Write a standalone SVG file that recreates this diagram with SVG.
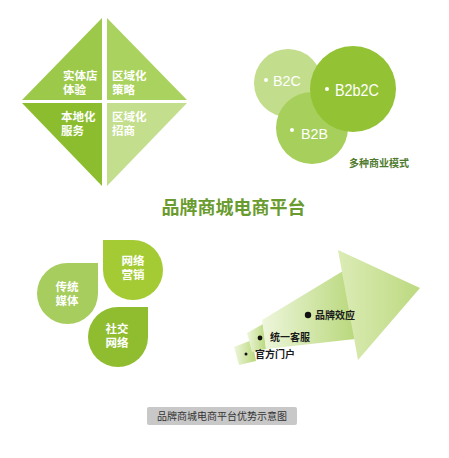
<svg xmlns="http://www.w3.org/2000/svg" width="449" height="458" viewBox="0 0 449 458">
<defs>
<style>
.cjk{font-family:"Liberation Sans","Noto Sans CJK SC",sans-serif;font-weight:bold;dominant-baseline:central}
.w12{fill:#ffffff;font-size:11.5px}
.lat{font-family:"Liberation Sans",Arial,sans-serif;fill:#ffffff;dominant-baseline:central}
.blk{fill:#1a1a1a;font-size:10px}
</style>
<linearGradient id="gBody" x1="0" y1="0" x2="1" y2="0">
<stop offset="0" stop-color="#eef6dc"/>
<stop offset="1" stop-color="#b9d87c"/>
</linearGradient>
<linearGradient id="gHead" x1="0" y1="0" x2="1" y2="0">
<stop offset="0" stop-color="#dcecb6"/>
<stop offset="1" stop-color="#bcd980"/>
</linearGradient>
</defs>
<rect width="449" height="458" fill="#ffffff"/>

<g id="diamond">
<polygon points="22,100 102,100 102,18" fill="#9dc94b"/>
<polygon points="107,18 107,100 187,100" fill="#aad25e"/>
<polygon points="22,103 102,103 102,186" fill="#8cbd2f"/>
<polygon points="107,103 187,103 107,186" fill="#c3de8c"/>
<text class="cjk w12" x="63" y="75.5">实体店</text>
<text class="cjk w12" x="63" y="89.5">体验</text>
<text class="cjk w12" x="112" y="75.5">区域化</text>
<text class="cjk w12" x="112" y="89.5">策略</text>
<text class="cjk w12" x="61" y="116.5">本地化</text>
<text class="cjk w12" x="61" y="130.5">服务</text>
<text class="cjk w12" x="112" y="116.5">区域化</text>
<text class="cjk w12" x="112" y="130.5">招商</text>
</g>

<g id="models">
<g id="b2c">
<circle cx="288" cy="83" r="34" fill="#c2dd8b"/>
</g>
<g id="b2b">
<circle cx="312" cy="128" r="36" fill="#a6cf5b"/>
</g>
<g id="b2b2c">
<circle cx="353" cy="89" r="43" fill="#93c335"/>
</g>
<circle cx="266" cy="80" r="2" fill="#ffffff"/>
<text class="lat" x="273" y="80" font-size="15" textLength="28" lengthAdjust="spacingAndGlyphs">B2C</text>
<circle cx="327" cy="89" r="2" fill="#ffffff"/>
<text class="lat" x="335" y="90" font-size="16" textLength="44" lengthAdjust="spacingAndGlyphs">B2b2C</text>
<circle cx="292" cy="130" r="2" fill="#ffffff"/>
<text class="lat" x="301" y="133" font-size="15" textLength="27" lengthAdjust="spacingAndGlyphs">B2B</text>
<text class="cjk" x="349" y="163" font-size="10" fill="#4f7b2e">多种商业模式</text>
</g>

<g id="title">
<text class="cjk" x="233.5" y="208" font-size="18" fill="#6a9b2f" text-anchor="middle">品牌商城电商平台</text>
</g>

<g id="drops">
<g id="d1">
<path d="M37,293.5 A30.5,30.5 0 0 1 67.5,263 L98,263 L98,293.5 A30.5,30.5 0 0 1 67.5,324 A30.5,30.5 0 0 1 37,293.5 Z" fill="#a6cd5e"/>
<text class="cjk w12" x="67" y="286.5" text-anchor="middle">传统</text>
<text class="cjk w12" x="67" y="300.5" text-anchor="middle">媒体</text>
</g>
<g id="d2">
<path d="M103,240 L133,240 A30,30 0 0 1 163,270 A30,30 0 0 1 133,300 A30,30 0 0 1 103,270 Z" fill="#a4cb34"/>
<text class="cjk w12" x="133" y="261" text-anchor="middle">网络</text>
<text class="cjk w12" x="133" y="275" text-anchor="middle">营销</text>
</g>
<g id="d3">
<path d="M88,337 A30,30 0 0 1 118,307 L148,307 L148,337 A30,30 0 0 1 118,367 A30,30 0 0 1 88,337 Z" fill="#8fbd2f"/>
<text class="cjk w12" x="117" y="328.5" text-anchor="middle">社交</text>
<text class="cjk w12" x="117" y="342.5" text-anchor="middle">网络</text>
</g>
</g>

<g id="arrow">
<polygon points="234,347 252,340 256,361 239,365" fill="url(#gBody)"/>
<polygon points="247,333 263,324 266,349 252,352" fill="url(#gBody)"/>
<polygon points="262,320 343,271 355,339 266,349" fill="url(#gBody)"/>
<polygon points="338,250 420,288 358,360" fill="url(#gHead)"/>
<circle cx="308" cy="315" r="3.2" fill="#111111"/>
<text class="cjk blk" x="315" y="315">品牌效应</text>
<circle cx="260" cy="338" r="2.4" fill="#111111"/>
<text class="cjk blk" x="270" y="337">统一客服</text>
<circle cx="246" cy="354" r="1.5" fill="#111111"/>
<text class="cjk blk" x="255" y="354">官方门户</text>
</g>

<g id="caption">
<rect x="147" y="407" width="150" height="18" rx="2" fill="#c8c8c8"/>
<text class="cjk" x="222" y="416" font-size="10" fill="#333333" text-anchor="middle" style="font-weight:normal">品牌商城电商平台优势示意图</text>
</g>
</svg>
